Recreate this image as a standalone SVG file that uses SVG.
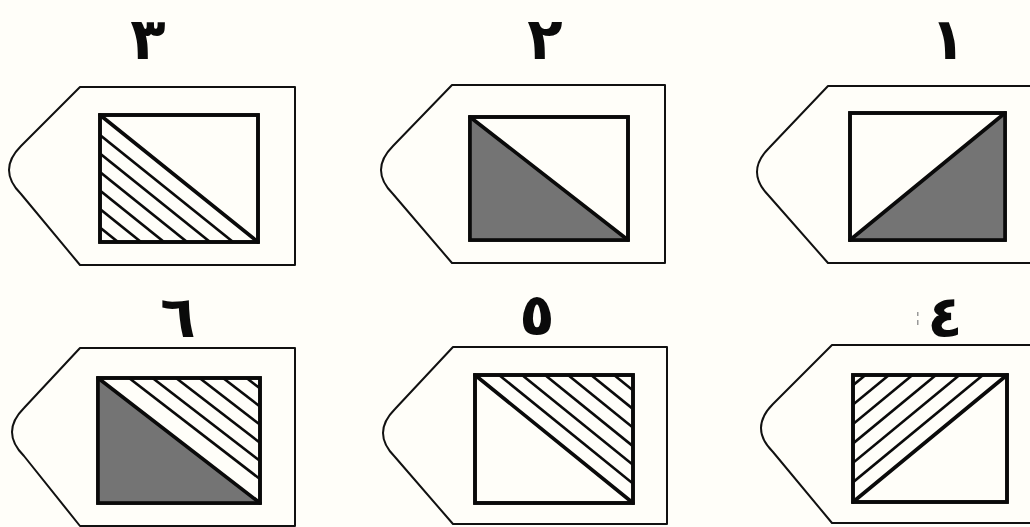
<svg xmlns="http://www.w3.org/2000/svg" width="1030" height="527" viewBox="0 0 1030 527">
<style>
.bg{fill:#fffef9}
.outer{fill:#fffef9;stroke:#111;stroke-width:2;stroke-linejoin:round}
.inner{fill:#fffef9;stroke:#0a0a0a;stroke-width:3.6}
.gray{fill:#747474;stroke:none}
.diag{stroke:#0a0a0a;stroke-width:3.6;stroke-linecap:round}
.hatch{stroke:#0a0a0a;stroke-width:2.6;fill:none}
.num{font-family:"DejaVu Sans","Noto Sans",sans-serif;font-weight:bold;font-size:58px;fill:#0a0a0a;text-anchor:middle}
</style>
<defs>
<clipPath id="c3"><polygon points="100,115 100,242 258,242"/></clipPath>
<clipPath id="c6"><polygon points="98,378 260,378 260,503"/></clipPath>
<clipPath id="c5"><polygon points="475,375 633,375 633,503"/></clipPath>
<clipPath id="c4"><polygon points="853,375 1007,375 853,502"/></clipPath>
</defs>
<rect class="bg" x="0" y="0" width="1030" height="527"/>

<g id="labels">
<text class="num" x="148" y="59">٣</text>
<text class="num" x="545" y="59">٢</text>
<text class="num" x="948" y="59">١</text>
<text class="num" x="178" y="337">٦</text>
<text class="num" x="537" y="335">٥</text>
<text class="num" x="945" y="337">٤</text>
<rect x="917" y="312" width="1.5" height="4" fill="#999"/>
<rect x="917" y="320" width="1.5" height="5" fill="#999"/>
</g>

<g id="panel3">
<path class="outer" d="M80,87 H295 V265 H80 L21,194 Q9,182 9,170 Q9,158 21,146 Z"/>
<rect class="inner" x="100" y="115" width="158" height="127"/>
<g clip-path="url(#c3)">
<line class="hatch" x1="100" y1="135" x2="258" y2="262"/>
<line class="hatch" x1="100" y1="153.5" x2="258" y2="280.5"/>
<line class="hatch" x1="100" y1="172" x2="258" y2="299"/>
<line class="hatch" x1="100" y1="190.5" x2="258" y2="317.5"/>
<line class="hatch" x1="100" y1="209" x2="258" y2="336"/>
<line class="hatch" x1="100" y1="227.5" x2="258" y2="354.5"/>
</g>
<line class="diag" x1="100" y1="115" x2="258" y2="242"/>
<rect x="100" y="115" width="158" height="127" fill="none" stroke="#0a0a0a" stroke-width="3.6"/>
</g>

<g id="panel2">
<path class="outer" d="M452,85 H665 V263 H452 L393,194 Q381,182 381,170 Q381,158 393,146 Z"/>
<rect class="inner" x="470" y="117" width="158" height="123"/>
<polygon class="gray" points="470,117 470,240 628,240"/>
<line class="diag" x1="470" y1="117" x2="628" y2="240" stroke-width="4.2"/>
<rect x="470" y="117" width="158" height="123" fill="none" stroke="#0a0a0a" stroke-width="3.6"/>
</g>

<g id="panel1">
<path class="outer" d="M828,86 H1040 V263 H828 L769,196 Q757,184 757,172 Q757,160 769,148 Z"/>
<rect class="inner" x="850" y="113" width="155" height="127"/>
<polygon class="gray" points="1005,113 1005,240 850,240"/>
<line class="diag" x1="850" y1="240" x2="1005" y2="113" stroke-width="4.2"/>
<rect x="850" y="113" width="155" height="127" fill="none" stroke="#0a0a0a" stroke-width="3.6"/>
</g>

<g id="panel6">
<path class="outer" d="M80,348 H295 V526 H80 L24,456 Q12,444 12,432 Q12,420 24,408 Z"/>
<rect class="inner" x="98" y="378" width="162" height="125"/>
<polygon class="gray" points="98,378 98,503 260,503"/>
<g clip-path="url(#c6)">
<line class="hatch" x1="129" y1="378" x2="291" y2="503"/>
<line class="hatch" x1="152.5" y1="378" x2="314.5" y2="503"/>
<line class="hatch" x1="176" y1="378" x2="338" y2="503"/>
<line class="hatch" x1="199.5" y1="378" x2="361.5" y2="503"/>
<line class="hatch" x1="223" y1="378" x2="385" y2="503"/>
<line class="hatch" x1="246.5" y1="378" x2="408.5" y2="503"/>
</g>
<line class="diag" x1="98" y1="378" x2="260" y2="503" stroke-width="4"/>
<rect x="98" y="378" width="162" height="125" fill="none" stroke="#0a0a0a" stroke-width="3.6"/>
</g>

<g id="panel5">
<path class="outer" d="M453,347 H667 V524 H453 L395,457 Q383,445 383,433 Q383,421 395,409 Z"/>
<rect class="inner" x="475" y="375" width="158" height="128"/>
<g clip-path="url(#c5)">
<line class="hatch" x1="499" y1="375" x2="657" y2="503"/>
<line class="hatch" x1="522" y1="375" x2="680" y2="503"/>
<line class="hatch" x1="545" y1="375" x2="703" y2="503"/>
<line class="hatch" x1="568" y1="375" x2="726" y2="503"/>
<line class="hatch" x1="591" y1="375" x2="749" y2="503"/>
<line class="hatch" x1="614" y1="375" x2="772" y2="503"/>
</g>
<line class="diag" x1="475" y1="375" x2="633" y2="503"/>
<rect x="475" y="375" width="158" height="128" fill="none" stroke="#0a0a0a" stroke-width="3.6"/>
</g>

<g id="panel4">
<path class="outer" d="M832,345 H1040 V523 H832 L773,452 Q761,440 761,428 Q761,416 773,404 Z"/>
<rect class="inner" x="853" y="375" width="154" height="127"/>
<g clip-path="url(#c4)">
<line class="hatch" x1="983" y1="375" x2="829" y2="502"/>
<line class="hatch" x1="959.5" y1="375" x2="805.5" y2="502"/>
<line class="hatch" x1="936" y1="375" x2="782" y2="502"/>
<line class="hatch" x1="912.5" y1="375" x2="758.5" y2="502"/>
<line class="hatch" x1="889" y1="375" x2="735" y2="502"/>
<line class="hatch" x1="865.5" y1="375" x2="711.5" y2="502"/>
</g>
<line class="diag" x1="853" y1="502" x2="1007" y2="375"/>
<rect x="853" y="375" width="154" height="127" fill="none" stroke="#0a0a0a" stroke-width="3.6"/>
</g>
</svg>
